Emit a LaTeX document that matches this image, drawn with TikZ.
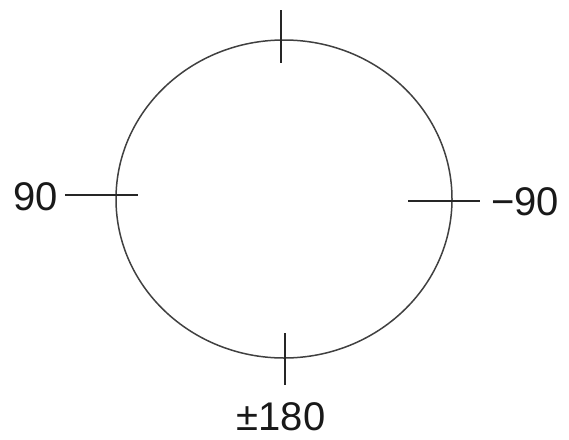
\documentclass[tikz,border=0pt]{standalone}
\usepackage{fontspec}
\setmainfont{Liberation Sans}
\usetikzlibrary{positioning}

\begin{document}
\begin{tikzpicture}[
    x=1pt, y=-1pt,
    ring/.style={draw=black!75, line width=1.5pt},
    tick/.style={draw=black!85, line width=1.7pt},
    angle/.style={font=\fontsize{40}{44}\selectfont, inner sep=0pt, text=black!90}
]
\useasboundingbox (0,0) rectangle (569,439);

% ---- Circle ----
\coordinate (mid) at (284,199);
\draw[ring] (mid) ellipse [x radius=168, y radius=159];

% ---- Labels ----
\node[angle, anchor=base west] (left)  at (13,210)  {90};
\node[angle, anchor=base west] (right) at (491,215) {−90};
\node[angle, anchor=base]      (down)  at (281,430) {±180};

% ---- Ticks ----
\coordinate (lt) at (138,195);
\coordinate (rt1) at (408,201);
\coordinate (rt2) at (480,201);
\coordinate (tp1) at (281,10);
\coordinate (tp2) at (281,63);
\coordinate (bt1) at (285,333);
\coordinate (bt2) at (285,385);

\draw[tick] (left.east |- lt) ++(7,0) -- (lt);
\draw[tick] (rt1) -- (rt2);
\draw[tick] (tp1) -- (tp2);
\draw[tick] (bt1) -- (bt2);

\end{tikzpicture}
\end{document}
